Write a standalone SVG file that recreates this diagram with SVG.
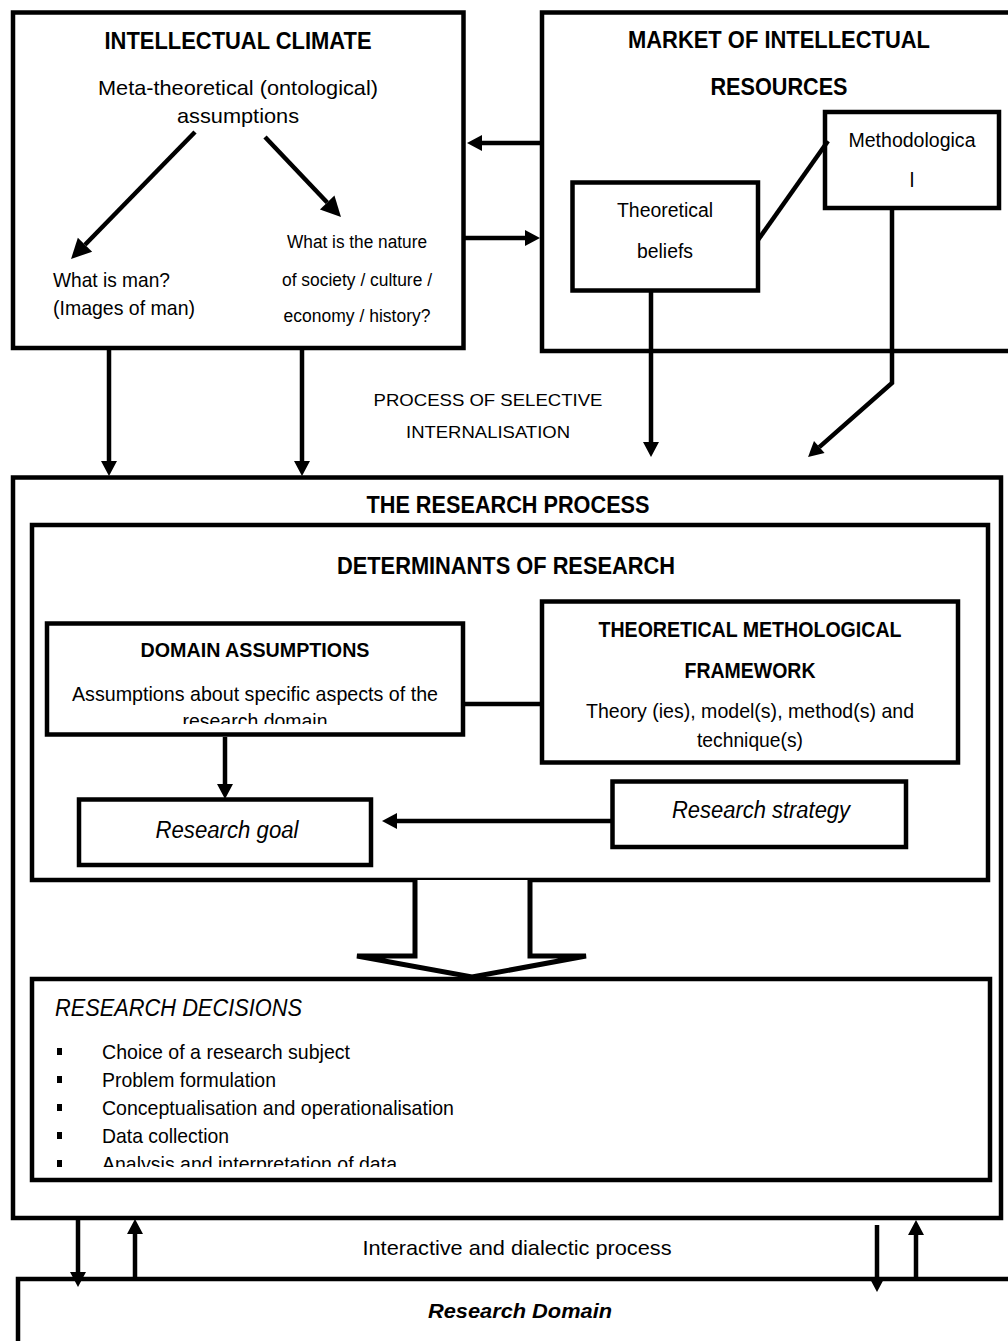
<svg xmlns="http://www.w3.org/2000/svg" width="1008" height="1341" viewBox="0 0 1008 1341">
<style>
text{font-family:"Liberation Sans Narrow","Arial Narrow","Liberation Sans",Arial,sans-serif;fill:#000}
.b{font-weight:bold}
.i{font-style:italic}
.m{text-anchor:middle}
.box{fill:#fff;stroke:#000;stroke-width:4.5}
.ln{fill:none;stroke:#000;stroke-width:4.5}
</style>
<defs>
<marker id="ah" markerUnits="userSpaceOnUse" markerWidth="16" markerHeight="16" refX="0" refY="8" orient="auto" overflow="visible">
<path d="M0,0 L15,8 L0,16 z" fill="#000"/>
</marker>
<marker id="ahL" markerUnits="userSpaceOnUse" markerWidth="20" markerHeight="20" refX="0" refY="10" orient="auto" overflow="visible">
<path d="M0,0 L20,10 L0,20 z" fill="#000"/>
</marker>
<clipPath id="clipDom"><rect x="47" y="623" width="416" height="101"/></clipPath>
<clipPath id="clipDec"><rect x="32" y="979" width="958" height="188"/></clipPath>
</defs>

<g id="intellectual-climate">
<rect class="box" x="13" y="12.5" width="450.5" height="335.5"/>
<text class="b m" x="238" y="49" font-size="23" textLength="267" lengthAdjust="spacingAndGlyphs">INTELLECTUAL CLIMATE</text>
<text class="m" x="238" y="95" font-size="21" textLength="280" lengthAdjust="spacingAndGlyphs">Meta-theoretical (ontological)</text>
<text class="m" x="238" y="123" font-size="21" textLength="122" lengthAdjust="spacingAndGlyphs">assumptions</text>
<text x="53" y="287" font-size="21" textLength="117" lengthAdjust="spacingAndGlyphs">What is man?</text>
<text x="53" y="315" font-size="21" textLength="142" lengthAdjust="spacingAndGlyphs">(Images of man)</text>
<text class="m" x="357" y="248" font-size="18" textLength="140" lengthAdjust="spacingAndGlyphs">What is the nature</text>
<text class="m" x="357" y="286" font-size="18" textLength="150" lengthAdjust="spacingAndGlyphs">of society / culture /</text>
<text class="m" x="357" y="322" font-size="18" textLength="147" lengthAdjust="spacingAndGlyphs">economy / history?</text>
</g>

<g id="market">
<rect class="box" x="542" y="12.5" width="480" height="338.5"/>
<text class="b m" x="779" y="48" font-size="23" textLength="302" lengthAdjust="spacingAndGlyphs">MARKET OF INTELLECTUAL</text>
<text class="b m" x="779" y="95" font-size="23" textLength="137" lengthAdjust="spacingAndGlyphs">RESOURCES</text>
</g>

<g id="theoretical-beliefs">
<rect class="box" x="572.5" y="182.5" width="185.5" height="108"/>
<text class="m" x="665" y="217" font-size="20" textLength="96" lengthAdjust="spacingAndGlyphs">Theoretical</text>
<text class="m" x="665" y="258" font-size="20" textLength="56" lengthAdjust="spacingAndGlyphs">beliefs</text>
</g>

<g id="methodological">
<rect class="box" x="825" y="112" width="174" height="96"/>
<text class="m" x="912" y="147" font-size="20" textLength="127" lengthAdjust="spacingAndGlyphs">Methodologica</text>
<text class="m" x="912" y="187" font-size="20">l</text>
</g>

<g id="selective-internalisation">
<text class="m" x="488" y="406" font-size="17" textLength="229" lengthAdjust="spacingAndGlyphs">PROCESS OF SELECTIVE</text>
<text class="m" x="488" y="438" font-size="17" textLength="164" lengthAdjust="spacingAndGlyphs">INTERNALISATION</text>
</g>

<g id="research-process">
<rect class="box" x="13" y="477.5" width="988" height="740.5" stroke-width="5"/>
<text class="b m" x="508" y="513" font-size="23" textLength="283" lengthAdjust="spacingAndGlyphs">THE RESEARCH PROCESS</text>
</g>

<g id="determinants">
<rect class="box" x="32" y="525" width="956" height="355" stroke-width="5"/>
<text class="b m" x="506" y="574" font-size="23" textLength="338" lengthAdjust="spacingAndGlyphs">DETERMINANTS OF RESEARCH</text>
</g>

<g id="domain-assumptions">
<rect class="box" x="47" y="623.5" width="416" height="111"/>
<text class="b m" x="255" y="657" font-size="20" textLength="229" lengthAdjust="spacingAndGlyphs">DOMAIN ASSUMPTIONS</text>
<text class="m" x="255" y="701" font-size="21" textLength="366" lengthAdjust="spacingAndGlyphs">Assumptions about specific aspects of the</text>
<text class="m" x="255" y="728" font-size="21" textLength="145" lengthAdjust="spacingAndGlyphs" clip-path="url(#clipDom)">research domain</text>
</g>

<g id="framework">
<rect class="box" x="542" y="601.5" width="416" height="161"/>
<text class="b m" x="750" y="637" font-size="22" textLength="303" lengthAdjust="spacingAndGlyphs">THEORETICAL METHOLOGICAL</text>
<text class="b m" x="750" y="678" font-size="22" textLength="131" lengthAdjust="spacingAndGlyphs">FRAMEWORK</text>
<text class="m" x="750" y="718" font-size="21" textLength="328" lengthAdjust="spacingAndGlyphs">Theory (ies), model(s), method(s) and</text>
<text class="m" x="750" y="747" font-size="21" textLength="106" lengthAdjust="spacingAndGlyphs">technique(s)</text>
</g>

<g id="research-goal">
<rect class="box" x="79" y="799.5" width="292" height="65.5"/>
<text class="i m" x="227" y="838" font-size="23" textLength="143" lengthAdjust="spacingAndGlyphs">Research goal</text>
</g>

<g id="research-strategy">
<rect class="box" x="612.5" y="781.5" width="293.5" height="65.5"/>
<text class="i m" x="761" y="818" font-size="23" textLength="178" lengthAdjust="spacingAndGlyphs">Research strategy</text>
</g>

<g id="research-decisions">
<rect class="box" x="32" y="979" width="958" height="201" stroke-width="5"/>
<text class="i" x="55" y="1016" font-size="23" textLength="247" lengthAdjust="spacingAndGlyphs">RESEARCH DECISIONS</text>
<g clip-path="url(#clipDec)">
<rect x="57" y="1048" width="5" height="7"/>
<text x="102" y="1059" font-size="21" textLength="248" lengthAdjust="spacingAndGlyphs">Choice of a research subject</text>
<rect x="57" y="1076" width="5" height="7"/>
<text x="102" y="1087" font-size="21" textLength="174" lengthAdjust="spacingAndGlyphs">Problem formulation</text>
<rect x="57" y="1104" width="5" height="7"/>
<text x="102" y="1115" font-size="21" textLength="352" lengthAdjust="spacingAndGlyphs">Conceptualisation and operationalisation</text>
<rect x="57" y="1132" width="5" height="7"/>
<text x="102" y="1143" font-size="21" textLength="127" lengthAdjust="spacingAndGlyphs">Data collection</text>
<rect x="57" y="1160" width="5" height="7"/>
<text x="102" y="1171" font-size="21" textLength="295" lengthAdjust="spacingAndGlyphs">Analysis and interpretation of data</text>
</g>
</g>

<g id="interactive-process">
<text class="m" x="517" y="1255" font-size="21" textLength="309" lengthAdjust="spacingAndGlyphs">Interactive and dialectic process</text>
</g>

<g id="research-domain">
<rect class="box" x="18" y="1279" width="1010" height="100" stroke-width="5"/>
<text class="b i m" x="520" y="1318" font-size="20" textLength="184" lengthAdjust="spacingAndGlyphs">Research Domain</text>
</g>

<g id="connectors">
<line class="ln" x1="195" y1="132" x2="85" y2="244.7" stroke-width="5" marker-end="url(#ahL)"/>
<line class="ln" x1="265" y1="137" x2="327.2" y2="202.5" stroke-width="5" marker-end="url(#ahL)"/>
<line class="ln" x1="542" y1="143" x2="482" y2="143" marker-end="url(#ah)"/>
<line class="ln" x1="465" y1="238" x2="525" y2="238" marker-end="url(#ah)"/>
<line class="ln" x1="758" y1="240" x2="828" y2="141" stroke-width="5"/>
<line class="ln" x1="109" y1="350" x2="109" y2="461" marker-end="url(#ah)"/>
<line class="ln" x1="302" y1="350" x2="302" y2="461" marker-end="url(#ah)"/>
<line class="ln" x1="651" y1="292" x2="651" y2="442" marker-end="url(#ah)"/>
<path class="ln" d="M892,210 V383 L819.3,447.1" marker-end="url(#ah)"/>
<line class="ln" x1="463" y1="704" x2="542" y2="704" stroke-width="5"/>
<line class="ln" x1="225" y1="737" x2="225" y2="784" marker-end="url(#ah)"/>
<line class="ln" x1="611" y1="821" x2="397" y2="821" marker-end="url(#ah)"/>
<path d="M415,880 V956 H357 L472,977 L586,956 H530 V880" fill="#fff" stroke="#000" stroke-width="5" stroke-linejoin="miter"/>
<line class="ln" x1="78" y1="1220" x2="78" y2="1272" marker-end="url(#ah)"/>
<line class="ln" x1="135" y1="1279" x2="135" y2="1234" marker-end="url(#ah)"/>
<line class="ln" x1="877" y1="1225" x2="877" y2="1277" marker-end="url(#ah)"/>
<line class="ln" x1="916" y1="1279" x2="916" y2="1235" marker-end="url(#ah)"/>
</g>
</svg>
